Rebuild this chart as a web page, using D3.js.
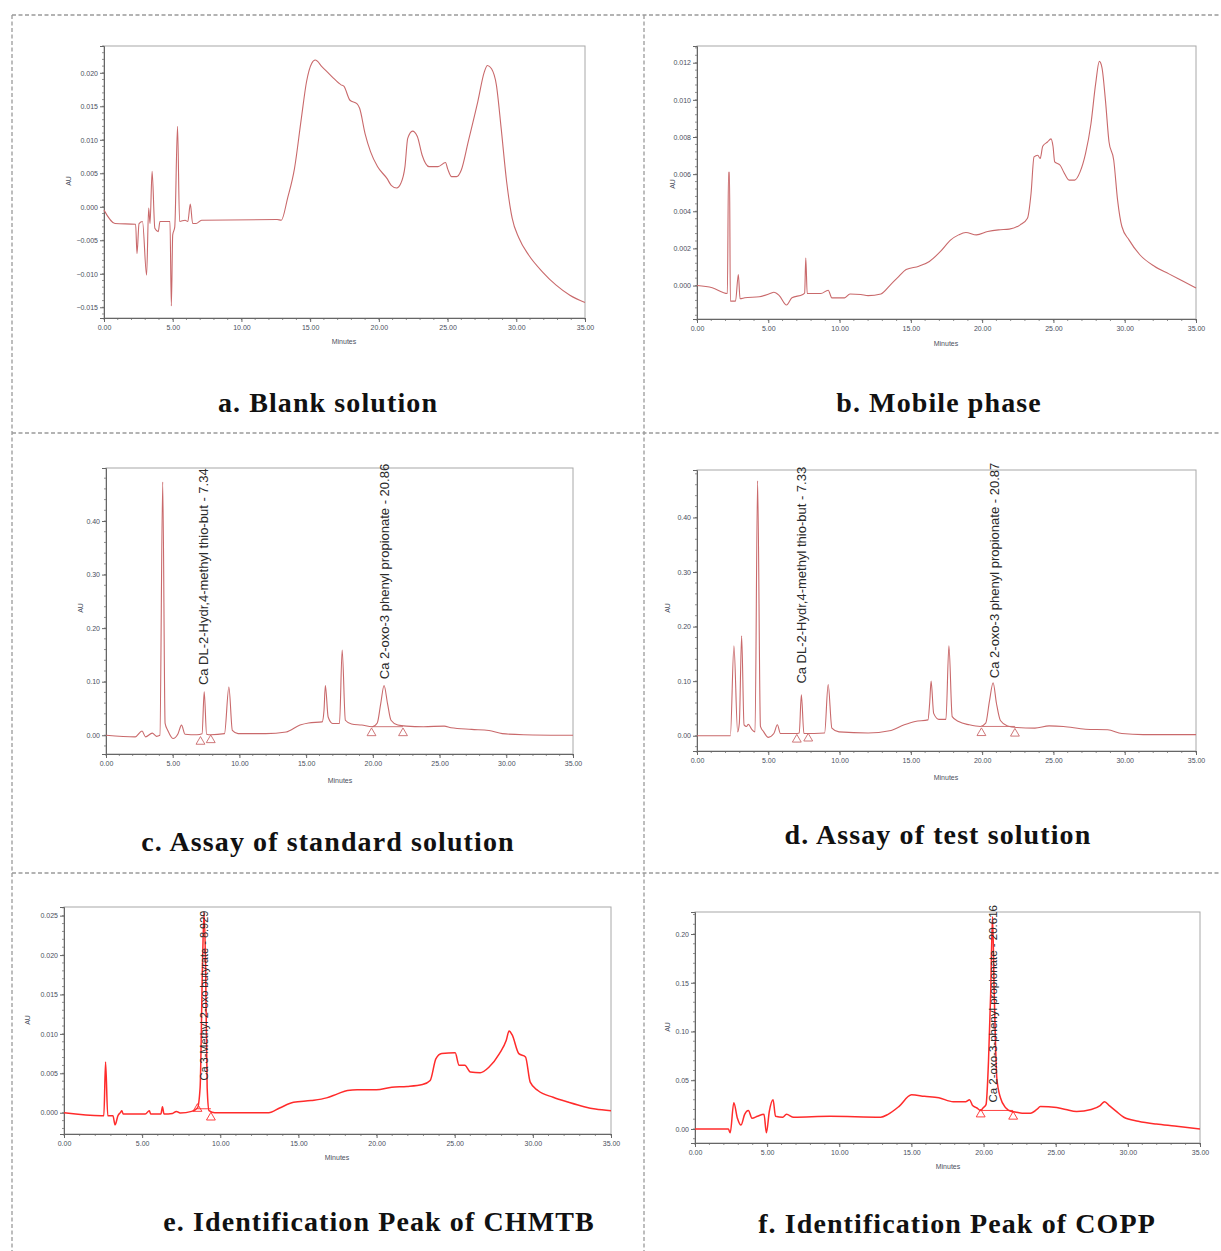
<!DOCTYPE html>
<html>
<head>
<meta charset="utf-8">
<script src="https://cdn.jsdelivr.net/npm/d3@7"></script>
<style>
  body { margin: 0; background: #fff; }
  svg { display: block; }
</style>
</head>
<body>
<svg id="canvas" width="1221" height="1251"></svg>
<script>
// chromatogram traces, [minutes, AU]
let blankTrace = [[0,-0.0005],[0.8,-0.0025],[2.3,-0.0026],[2.4,-0.0070],[2.55,-0.0025],[2.8,-0.0022],[3.1,-0.0102],[3.25,-0.0002],[3.35,-0.0025],[3.5,0.0053],[3.7,-0.0032],[3.95,-0.0037],[4.07,-0.0022],[4.8,-0.0022],[4.9,-0.0148],[5.0,-0.0042],[5.15,-0.0030],[5.35,0.0120],[5.5,-0.0022],[5.9,-0.0020],[6.1,-0.0022],[6.28,0.0004],[6.45,-0.0025],[6.7,-0.0025],[7.1,-0.0020],[12.6,-0.0019],[12.9,-0.0020],[13.36,0.0013],[13.86,0.0057],[14.36,0.0132],[14.74,0.0187],[15.11,0.0214],[15.37,0.0219],[15.87,0.0209],[16.6,0.0194],[17.25,0.0182],[17.45,0.0180],[17.9,0.0159],[18.4,0.0154],[18.6,0.0147],[19.0,0.0109],[19.4,0.0082],[19.9,0.0060],[20.6,0.0042],[20.9,0.0032],[21.3,0.0028],[21.6,0.0035],[21.9,0.0060],[22.1,0.0102],[22.45,0.0113],[22.8,0.0105],[23.15,0.0077],[23.65,0.0060],[24.3,0.0060],[24.85,0.0066],[25.0,0.0057],[25.3,0.0045],[25.65,0.0045],[26.0,0.0055],[26.5,0.0097],[27.2,0.0157],[27.67,0.0201],[27.9,0.0211],[28.2,0.0206],[28.55,0.0182],[28.9,0.0117],[29.3,0.0037],[29.7,-0.0017],[30.2,-0.0047],[30.9,-0.0072],[31.9,-0.0097],[32.9,-0.0117],[33.9,-0.0132],[35,-0.0143]]

let mobileTrace = [[0,0],[1.07,-0.00012],[2.13,-0.00043],[2.21,0.0061],[2.28,0.0061],[2.34,-0.00084],[2.7,-0.00084],[2.9,0.00059],[3.02,-0.00071],[3.35,-0.00066],[4.37,-0.0006],[5.13,-0.00043],[5.39,-0.00036],[5.77,-0.00054],[6.28,-0.00105],[6.66,-0.00066],[7.42,-0.00048],[7.55,-0.0004],[7.63,0.00148],[7.73,-0.00043],[8.69,-0.00043],[9.2,-0.00025],[9.46,-0.00066],[10.35,-0.00066],[10.73,-0.00045],[11.49,-0.00048],[12.0,-0.00054],[12.9,-0.00045],[13.52,0],[14.16,0.0005],[14.67,0.00086],[15.56,0.00104],[16.3,0.0013],[17.08,0.00184],[17.8,0.00246],[18.35,0.00273],[18.86,0.00286],[19.6,0.00273],[20.39,0.00291],[21.15,0.003],[21.9,0.00304],[22.67,0.00327],[23.18,0.00363],[23.43,0.00496],[23.64,0.00693],[23.9,0.00702],[24.07,0.00684],[24.25,0.0075],[24.58,0.00773],[24.83,0.0079],[24.97,0.0075],[25.09,0.00666],[25.47,0.00648],[25.72,0.00612],[26.1,0.00568],[26.49,0.00568],[26.87,0.00612],[27.25,0.0071],[27.63,0.0087],[27.96,0.01086],[28.22,0.01207],[28.4,0.01175],[28.65,0.00996],[28.9,0.00773],[29.23,0.00675],[29.5,0.0046],[29.8,0.00318],[30.3,0.00246],[31.06,0.00166],[32.08,0.00104],[33.1,0.00063],[34.1,0.00023],[35,-0.00013]]

let standardTrace = [[0,0],[2.19,-0.003],[2.7,0.008],[2.96,-0.003],[3.47,0.004],[3.78,-0.002],[4.04,0],[4.25,0.473],[4.43,0.022],[4.63,0.009],[5.02,-0.006],[5.4,0.003],[5.66,0.019],[5.92,0.002],[6.82,0.001],[7.2,0.003],[7.36,0.081],[7.54,0.002],[7.85,0.001],[8.88,0.003],[9.21,0.09],[9.47,0.009],[9.9,0.003],[11.97,0.003],[13.5,0.006],[14.54,0.019],[15.18,0.023],[16.2,0.025],[16.34,0.047],[16.44,0.093],[16.65,0.034],[16.98,0.022],[17.5,0.022],[17.7,0.159],[17.94,0.028],[18.4,0.021],[19.17,0.019],[19.95,0.016],[20.33,0.023],[20.59,0.059],[20.84,0.093],[21.1,0.059],[21.36,0.028],[21.87,0.019],[22.5,0.017],[23.8,0.016],[25.35,0.017],[25.86,0.014],[27.4,0.011],[28.7,0.009],[29.7,0.003],[31.3,0.001],[35,0]]

let testTrace = [[0,0],[2.34,0],[2.59,0.165],[2.85,0.007],[2.97,0.023],[3.13,0.183],[3.3,0.02],[3.48,0.017],[3.6,0.021],[3.86,0.011],[4.07,0.007],[4.25,0.467],[4.45,0.017],[4.68,0.007],[5.0,-0.003],[5.39,0.004],[5.64,0.02],[5.85,0.004],[6.91,0.004],[7.17,0.005],[7.32,0.075],[7.5,0.004],[8.95,0.005],[9.2,0.094],[9.46,0.014],[9.96,0.007],[12.0,0.005],[13.5,0.009],[14.54,0.02],[15.3,0.026],[16.2,0.029],[16.32,0.06],[16.42,0.1],[16.6,0.041],[16.97,0.03],[17.46,0.03],[17.67,0.165],[17.9,0.035],[18.35,0.026],[19.1,0.02],[19.88,0.017],[20.25,0.023],[20.51,0.063],[20.77,0.097],[21.0,0.06],[21.28,0.028],[21.78,0.018],[22.42,0.015],[23.7,0.014],[24.7,0.018],[25.7,0.017],[27.25,0.012],[28.8,0.011],[29.8,0.004],[31.3,0.002],[35,0.002]]

let chmtbTrace = [[0,0],[2.39,-0.00038],[2.55,-0.00038],[2.66,0.00644],[2.8,-0.00038],[3.13,-0.00038],[3.27,-0.00154],[3.45,-0.00038],[3.62,0.00004],[3.7,0.00026],[3.79,-0.00017],[5.2,-0.00017],[5.46,0.00026],[5.55,-0.00017],[6.2,-0.00017],[6.3,0.00077],[6.4,-0.00017],[6.94,-0.00009],[7.19,0.00017],[7.43,-0.00004],[8.17,0.00017],[8.54,0.0006],[8.71,0.0032],[8.86,0.0186],[8.96,0.0254],[9.06,0.0186],[9.16,0.0032],[9.28,0.00026],[9.65,0],[13.1,0],[13.8,0.0006],[14.69,0.00132],[15.8,0.00154],[16.8,0.00188],[17.5,0.00239],[18.14,0.00282],[18.76,0.0029],[19.99,0.0029],[20.97,0.00324],[21.95,0.00333],[22.94,0.00358],[23.43,0.0041],[23.8,0.00687],[24.17,0.00751],[25.03,0.0076],[25.28,0.00602],[25.65,0.00602],[26.0,0.00516],[26.63,0.00508],[27.2,0.0058],[27.86,0.0075],[28.3,0.0092],[28.48,0.01037],[28.67,0.0099],[29.1,0.0075],[29.53,0.00708],[29.83,0.00388],[30.32,0.00282],[31.3,0.00196],[32.3,0.00132],[33.28,0.00077],[34.0,0.00047],[35,0.00026]]

let coppTrace = [[0,0],[2.31,0],[2.44,-0.004],[2.69,0.027],[2.94,0.011],[3.19,0.004],[3.44,0.015],[3.7,0.019],[3.95,0.011],[4.33,0.013],[4.78,0.015],[4.95,-0.004],[5.15,0.018],[5.41,0.030],[5.58,0.013],[6.08,0.012],[6.34,0.015],[6.84,0.012],[9.35,0.013],[12.87,0.012],[13.38,0.015],[14.13,0.023],[15.01,0.035],[15.9,0.0335],[16.9,0.032],[17.9,0.028],[18.78,0.028],[19.03,0.03],[19.24,0.024],[19.54,0.0215],[19.79,0.019],[19.96,0.0215],[20.17,0.025],[20.34,0.069],[20.49,0.138],[20.62,0.218],[20.74,0.138],[20.92,0.052],[21.17,0.032],[21.55,0.0215],[21.93,0.018],[22.18,0.0175],[22.68,0.016],[23.18,0.016],[23.69,0.02],[23.94,0.023],[25.07,0.022],[25.7,0.02],[26.45,0.018],[27.46,0.02],[28.08,0.024],[28.39,0.028],[28.71,0.024],[29.2,0.018],[29.72,0.012],[30.72,0.008],[31.98,0.005],[33.24,0.003],[35,0]]

// tick values
let minuteTicks = [0, 5, 10, 15, 20, 25, 30, 35]
let blankTicks = [-0.015, -0.010, -0.005, 0.000, 0.005, 0.010, 0.015, 0.020]
let mobileTicks = [0.000, 0.002, 0.004, 0.006, 0.008, 0.010, 0.012]
let assayTicks = [0.00, 0.10, 0.20, 0.30, 0.40]
let chmtbTicks = [0.000, 0.005, 0.010, 0.015, 0.020, 0.025]
let coppTicks = [0.00, 0.05, 0.10, 0.15, 0.20]

// integration marks (minutes, AU)
let standardMarks = [[7.08,-0.012],[7.85,-0.009],[19.9,0.004],[22.26,0.004]]
let testMarks = [[7.0,-0.007],[7.8,-0.005],[19.95,0.005],[22.3,0.004]]
let chmtbMarks = [[8.54,0.0005],[9.4,-0.0006]]
let coppMarks = [[19.8,0.015],[22.05,0.0127]]

// peak labels: [minutes, AU at text start, text]
let standardLabels = [[7.34, 0.088, 'Ca DL-2-Hydr,4-methyl thio-but - 7.34'], [20.86, 0.099, 'Ca 2-oxo-3 phenyl propionate - 20.86']]
let testLabels = [[7.33, 0.09, 'Ca DL-2-Hydr,4-methyl thio-but - 7.33'], [20.87, 0.1, 'Ca 2-oxo-3 phenyl propionate - 20.87']]
let chmtbLabels = [[8.93, 0.0037, 'Ca 3-Methyl 2-oxo butyrate - 8.929']]
let coppLabels = [[20.62, 0.024, 'Ca 2-oxo-3-phenyl propionate - 20.616']]

let captions = ['a. Blank solution', 'b. Mobile phase', 'c. Assay of standard solution', 'd. Assay of test solution', 'e. Identification Peak of CHMTB', 'f. Identification Peak of COPP']

let canvas = d3.select('#canvas')

// dashed frame
let frame = canvas.append('g')
    .attr('stroke', '#9a9a9a')
    .attr('stroke-width', 1.3)
    .attr('stroke-dasharray', '4,2.5')
    .attr('fill', 'none')
frame.append('line').attr('x1', 12).attr('y1', 15).attr('x2', 1221).attr('y2', 15)
frame.append('line').attr('x1', 12).attr('y1', 15).attr('x2', 12).attr('y2', 1251)
frame.append('line').attr('x1', 644).attr('y1', 15).attr('x2', 644).attr('y2', 1251)
frame.append('line').attr('x1', 12).attr('y1', 433).attr('x2', 1221).attr('y2', 433)
frame.append('line').attr('x1', 12).attr('y1', 873).attr('x2', 1221).attr('y2', 873)

let panels = [
    {data: blankTrace, ticks: blankTicks, fmt: '.3f', left: 104, right: 585, top: 46, bottom: 318, yDomain: [-0.0166, 0.024], color: '#c9696b', width: 1.1, au: [68, 181], minutes: [344, 341], caption: [328, 402]},
    {data: mobileTrace, ticks: mobileTicks, fmt: '.3f', left: 697, right: 1196, top: 46, bottom: 319, yDomain: [-0.0018, 0.0129], color: '#c9696b', width: 1.1, au: [672, 184], minutes: [946, 343], caption: [939, 402]},
    {data: standardTrace, ticks: assayTicks, fmt: '.2f', left: 106, right: 573, top: 468, bottom: 754, yDomain: [-0.035, 0.499], color: '#c9696b', width: 1.1, au: [80, 608], minutes: [340, 780], caption: [328, 841], marks: standardMarks, labels: standardLabels, base: [[19.9, 22.26, 0.016]]},
    {data: testTrace, ticks: assayTicks, fmt: '.2f', left: 697, right: 1196, top: 470, bottom: 751, yDomain: [-0.028, 0.487], color: '#c9696b', width: 1.1, au: [667, 608], minutes: [946, 777], caption: [938, 834], marks: testMarks, labels: testLabels, base: [[19.95, 22.3, 0.017]]},
    {data: chmtbTrace, ticks: chmtbTicks, fmt: '.3f', left: 64, right: 611, top: 907, bottom: 1134, yDomain: [-0.0027, 0.0261], color: '#ff2b2b', width: 1.5, au: [27, 1020], minutes: [337, 1157], caption: [379, 1221], marks: chmtbMarks, labels: chmtbLabels, base: [[8.54, 9.4, 0.0005]]},
    {data: coppTrace, ticks: coppTicks, fmt: '.2f', left: 695, right: 1200, top: 912, bottom: 1143, yDomain: [-0.0144, 0.2226], color: '#ff2b2b', width: 1.5, au: [667, 1027], minutes: [948, 1166], caption: [957, 1223], marks: coppMarks, labels: coppLabels, base: [[19.8, 22.05, 0.019]]}
]

let labelSize = [0, 0, 13, 13, 11, 11.5]

let drawPanel = (p, i) => {
    let g = canvas.append('g')
    let x = d3.scaleLinear().domain([0, 35]).range([p.left, p.right])
    let y = d3.scaleLinear().domain(p.yDomain).range([p.bottom, p.top])

    // plot box
    g.append('rect')
        .attr('x', p.left).attr('y', p.top)
        .attr('width', p.right - p.left).attr('height', p.bottom - p.top)
        .attr('fill', 'none').attr('stroke', '#a8a8a8').attr('stroke-width', 1)

    // minor ticks
    let yStep = p.ticks[1] - p.ticks[0]
    let yMinor = d3.range(Math.ceil(p.yDomain[0] / (yStep / 5)), Math.floor(p.yDomain[1] / (yStep / 5)) + 1).map(k => k * yStep / 5)
    g.append('g').selectAll('line').data(yMinor).enter().append('line')
        .attr('x1', p.left - 2).attr('x2', p.left)
        .attr('y1', d => y(d)).attr('y2', d => y(d))
        .attr('stroke', '#777').attr('stroke-width', 0.8)
    g.append('g').selectAll('line').data(d3.range(0, 36)).enter().append('line')
        .attr('x1', d => x(d)).attr('x2', d => x(d))
        .attr('y1', p.bottom).attr('y2', p.bottom + 2)
        .attr('stroke', '#777').attr('stroke-width', 0.8)

    let yAxis = g.append('g')
        .attr('transform', 'translate(' + p.left + ',0)')
        .call(d3.axisLeft(y).tickValues(p.ticks).tickFormat(d3.format(p.fmt)).tickSize(4).tickPadding(2))
    let xAxis = g.append('g')
        .attr('transform', 'translate(0,' + p.bottom + ')')
        .call(d3.axisBottom(x).tickValues(minuteTicks).tickFormat(d3.format('.2f')).tickSize(4).tickPadding(3))
    ;[yAxis, xAxis].forEach(a => {
        a.select('.domain').attr('stroke', '#666')
        a.selectAll('.tick line').attr('stroke', '#666')
        a.selectAll('.tick text')
            .attr('fill', '#4a4f5e')
            .style('font-family', 'Liberation Sans, Arial, sans-serif')
            .style('font-size', '7px')
    })

    g.append('text')
        .attr('transform', 'translate(' + p.au[0] + ',' + p.au[1] + ') rotate(-90)')
        .attr('text-anchor', 'middle')
        .attr('dominant-baseline', 'central')
        .style('font-family', 'Liberation Sans, Arial, sans-serif')
        .style('font-size', '7px')
        .attr('fill', '#4a4f5e')
        .text('AU')
    g.append('text')
        .attr('x', p.minutes[0]).attr('y', p.minutes[1])
        .attr('text-anchor', 'middle')
        .attr('dominant-baseline', 'central')
        .style('font-family', 'Liberation Sans, Arial, sans-serif')
        .style('font-size', '7px')
        .attr('fill', '#4a4f5e')
        .text('Minutes')

    // integration baseline
    if (p.base) {
        g.append('g').selectAll('line').data(p.base).enter().append('line')
            .attr('x1', d => x(d[0])).attr('x2', d => x(d[1]))
            .attr('y1', d => y(d[2])).attr('y2', d => y(d[2]))
            .attr('stroke', p.color).attr('stroke-width', 0.9)
    }

    let line = d3.line()
        .x(d => x(d[0]))
        .y(d => y(d[1]))
        .curve(d3.curveMonotoneX)
    g.append('path')
        .datum(p.data)
        .attr('d', line)
        .attr('fill', 'none')
        .attr('stroke', p.color)
        .attr('stroke-width', p.width)
        .attr('stroke-linejoin', 'round')

    if (p.marks) {
        g.append('g').selectAll('path').data(p.marks).enter().append('path')
            .attr('d', d3.symbol().type(d3.symbolTriangle).size(34))
            .attr('transform', d => 'translate(' + x(d[0]) + ',' + y(d[1]) + ')')
            .attr('fill', 'none')
            .attr('stroke', p.color)
            .attr('stroke-width', 0.9)
    }

    if (p.labels) {
        g.append('g').selectAll('text').data(p.labels).enter().append('text')
            .attr('transform', d => 'translate(' + x(d[0]) + ',' + (y(d[1]) - 3) + ') rotate(-90)')
            .attr('dominant-baseline', 'central')
            .style('font-family', 'Liberation Sans, Arial, sans-serif')
            .style('font-size', labelSize[i] + 'px')
            .attr('fill', '#2a2a2a')
            .text(d => d[2])
    }

    canvas.append('text')
        .attr('x', p.caption[0]).attr('y', p.caption[1])
        .attr('text-anchor', 'middle')
        .attr('dominant-baseline', 'central')
        .style('font-family', 'Liberation Serif, serif')
        .style('font-weight', 'bold')
        .style('font-size', '28px')
        .style('letter-spacing', '1.1px')
        .attr('fill', '#111')
        .text(captions[i])
}

panels.forEach(drawPanel)
</script>
</body>
</html>
